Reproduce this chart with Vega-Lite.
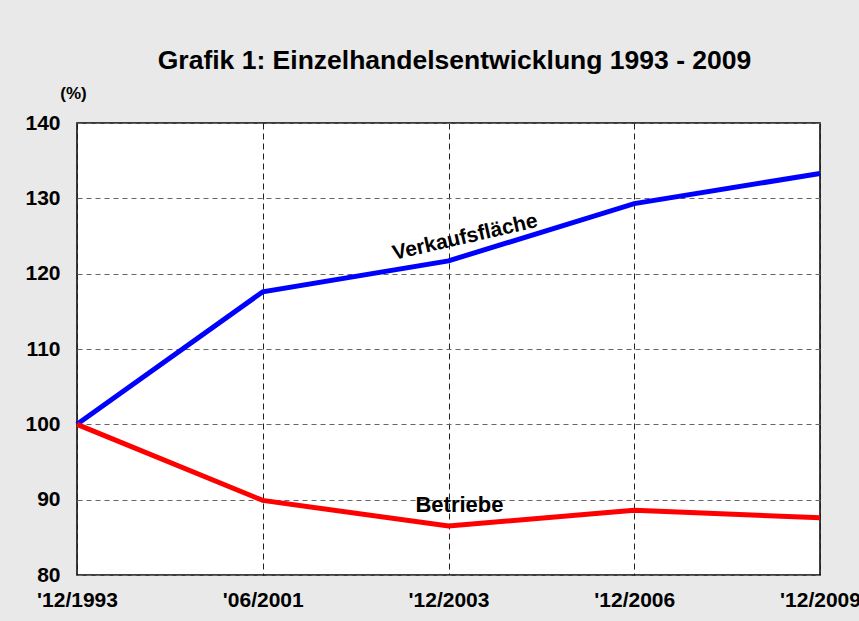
{
  "$schema": "https://vega.github.io/schema/vega-lite/v6.json",
  "width": 743,
  "height": 452,
  "autosize": {"type": "none"},
  "padding": {"left": 77, "top": 123, "right": 39, "bottom": 46},
  "background": "#e9e9e9",
  "title": {
    "text": "Grafik 1: Einzelhandelsentwicklung 1993 - 2009",
    "font": "Liberation Sans",
    "fontSize": 26.5,
    "fontWeight": "bold",
    "color": "#000000",
    "anchor": "middle",
    "dx": 6,
    "offset": 10
  },
  "config": {
    "view": {"fill": "#ffffff", "stroke": "#000000", "strokeWidth": 1.5},
    "font": "Liberation Sans"
  },
  "datasets": {
    "lines": [
      {"date": "'12/1993", "series": "Verkaufsfläche", "value": 100},
      {"date": "'06/2001", "series": "Verkaufsfläche", "value": 117.6},
      {"date": "'12/2003", "series": "Verkaufsfläche", "value": 121.7},
      {"date": "'12/2006", "series": "Verkaufsfläche", "value": 129.3},
      {"date": "'12/2009", "series": "Verkaufsfläche", "value": 133.3},
      {"date": "'12/1993", "series": "Betriebe", "value": 100},
      {"date": "'06/2001", "series": "Betriebe", "value": 89.9},
      {"date": "'12/2003", "series": "Betriebe", "value": 86.5},
      {"date": "'12/2006", "series": "Betriebe", "value": 88.6},
      {"date": "'12/2009", "series": "Betriebe", "value": 87.6}
    ],
    "labels": [
      {"date": "'12/2003", "label": "Verkaufsfläche", "value": 124.3},
      {"date": "'12/2003", "label": "Betriebe", "value": 89.3}
    ]
  },
  "layer": [
    {
      "data": {"name": "lines"},
      "mark": {"type": "line", "strokeWidth": 5, "strokeCap": "butt", "strokeJoin": "miter"},
      "encoding": {
        "x": {
          "field": "date",
          "type": "ordinal",
          "sort": null,
          "scale": {"type": "point", "padding": 0},
          "axis": {
            "title": null,
            "labelAngle": 0,
            "labelFont": "Liberation Sans",
            "labelFontSize": 21,
            "labelFontWeight": "bold",
            "labelColor": "#000000",
            "labelPadding": 14,
            "labelBaseline": "top",
            "ticks": false,
            "domain": false,
            "grid": true,
            "gridColor": "#222222",
            "gridDash": [6, 4],
            "gridWidth": 1
          }
        },
        "y": {
          "field": "value",
          "type": "quantitative",
          "scale": {"domain": [80, 140], "nice": false, "zero": false},
          "axis": {
            "values": [80, 90, 100, 110, 120, 130, 140],
            "title": "(%)",
            "titleAngle": 0,
            "titleX": -4,
            "titleY": -30,
            "titleAlign": "center",
            "titleBaseline": "middle",
            "titleFont": "Liberation Sans",
            "titleFontSize": 17,
            "titleFontWeight": "bold",
            "titleColor": "#000000",
            "labelFont": "Liberation Sans",
            "labelFontSize": 21,
            "labelFontWeight": "bold",
            "labelColor": "#000000",
            "labelPadding": 17,
            "ticks": false,
            "domain": false,
            "grid": true,
            "gridColor": "#666666",
            "gridDash": [5, 4],
            "gridWidth": 1
          }
        },
        "color": {
          "field": "series",
          "type": "nominal",
          "scale": {"domain": ["Verkaufsfläche", "Betriebe"], "range": ["#0000ff", "#ff0000"]},
          "legend": null
        }
      }
    },
    {
      "data": {"name": "labels"},
      "transform": [{"filter": "datum.label === 'Verkaufsfläche'"}],
      "mark": {"type": "text", "font": "Liberation Sans", "fontSize": 21, "fontWeight": "bold", "color": "#000000", "align": "center", "baseline": "middle", "angle": -13, "dx": 17},
      "encoding": {
        "x": {"field": "date", "type": "ordinal", "sort": null},
        "y": {"field": "value", "type": "quantitative"},
        "text": {"field": "label"}
      }
    },
    {
      "data": {"name": "labels"},
      "transform": [{"filter": "datum.label === 'Betriebe'"}],
      "mark": {"type": "text", "font": "Liberation Sans", "fontSize": 22, "fontWeight": "bold", "color": "#000000", "align": "center", "baseline": "middle", "dx": 11},
      "encoding": {
        "x": {"field": "date", "type": "ordinal", "sort": null},
        "y": {"field": "value", "type": "quantitative"},
        "text": {"field": "label"}
      }
    }
  ]
}
